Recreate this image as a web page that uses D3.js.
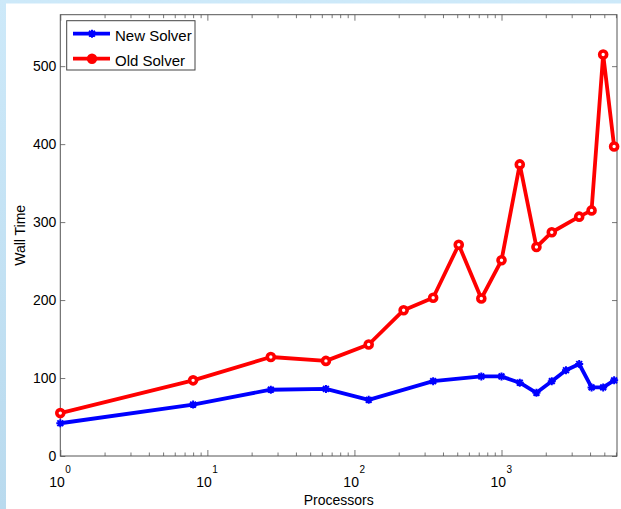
<!DOCTYPE html>
<html>
<head>
<title>Wall Time vs Processors</title>
<script src="https://cdn.jsdelivr.net/npm/d3@7/dist/d3.min.js"></script>
<style>
  body { margin: 0; background: #fff; }
  svg text { font-family: "Liberation Sans", Arial, Helvetica, sans-serif; fill: #000; }
</style>
</head>
<body>
<svg width="621" height="509"></svg>

<script>
// processor counts are cubes 1^3 .. 18^3
const newProcs = [1, 8, 27, 64, 125, 343, 729, 1000, 1331, 1728, 2197, 2744, 3375, 4096, 4913, 5832];
const newTime  = [42, 66, 85, 86, 72, 96, 102, 102, 94, 81, 96, 110, 118, 88, 88, 97];

const oldProcs = [1, 8, 27, 64, 125, 216, 343, 512, 729, 1000, 1331, 1728, 2197, 3375, 4096, 4913, 5832];
const oldTime  = [55, 97, 127, 122, 143, 187, 203, 271, 202, 251, 374, 268, 287, 307, 315, 515, 397];

const yTicks = [0, 100, 200, 300, 400, 500];
const xMajor = [1, 10, 100, 1000];
const xExp = ["0", "1", "2", "3"];
const xMinor = [2,3,4,5,6,7,8,9,20,30,40,50,60,70,80,90,200,300,400,500,600,700,800,900,2000,3000,4000,5000,6000];

const seriesNames = ["New Solver", "Old Solver"];

const svg = d3.select("svg");

// page background (light blue strip on the left and top)
var grad = svg.append("defs").append("linearGradient")
    .attr("id", "bg").attr("x1", 0).attr("y1", 0).attr("x2", 0).attr("y2", 1);
grad.append("stop").attr("offset", "0%").attr("stop-color", "#cde9f9");
grad.append("stop").attr("offset", "100%").attr("stop-color", "#b9daee");
svg.append("rect").attr("width", 621).attr("height", 509).attr("fill", "url(#bg)");
svg.append("rect").attr("x", 6).attr("y", 3.5).attr("width", 615).attr("height", 506).attr("fill", "#fff");

const pLeft = 60.3, pRight = 617, pTop = 14.7, pBottom = 456;

var x = d3.scaleLog().domain([1, 6100]).range([pLeft, pRight]);
var y = d3.scaleLinear().domain([0, 566]).range([pBottom, pTop]);

// y axis, left with labels, right without
svg.append("g")
    .attr("transform", "translate(" + pLeft + ",0)")
    .call(d3.axisLeft(y).tickValues(yTicks).tickSizeInner(-5).tickSizeOuter(0).tickPadding(4))
    .call(g => g.select(".domain").remove())
    .call(g => g.selectAll("line").attr("stroke", "#777"))
    .call(g => g.selectAll("text").attr("font-size", 14).attr("fill", "#000"));

svg.append("g")
    .attr("transform", "translate(" + pRight + ",0)")
    .call(d3.axisRight(y).tickValues(yTicks).tickSizeInner(-5).tickSizeOuter(0).tickFormat(""))
    .call(g => g.select(".domain").remove())
    .call(g => g.selectAll("line").attr("stroke", "#777"));

// x axis ticks, bottom and top, majors longer than minors
function xTicks(pos, vals, len, axisFn) {
    svg.append("g")
        .attr("transform", "translate(0," + pos + ")")
        .call(axisFn(x).tickValues(vals).tickSizeInner(-len).tickSizeOuter(0).tickFormat(""))
        .call(g => g.select(".domain").remove())
        .call(g => g.selectAll("line").attr("stroke", "#777"));
}
xTicks(pBottom, xMajor, 6, d3.axisBottom);
xTicks(pBottom, xMinor, 3.5, d3.axisBottom);
xTicks(pTop, xMajor, 6, d3.axisTop);
xTicks(pTop, xMinor, 3.5, d3.axisTop);

// 10^n labels
var xl = svg.append("g").selectAll("g").data(xMajor).enter().append("g");
xl.append("text")
    .attr("x", d => x(d) + 4.5)
    .attr("y", 486.7)
    .attr("text-anchor", "end")
    .attr("font-size", 14)
    .text("10");
xl.append("text")
    .attr("x", d => x(d) + 5)
    .attr("y", 473.3)
    .attr("font-size", 10)
    .text((d, i) => xExp[i]);

// box
svg.append("rect")
    .attr("x", pLeft).attr("y", pTop)
    .attr("width", pRight - pLeft).attr("height", pBottom - pTop)
    .attr("fill", "none").attr("stroke", "#555").attr("stroke-width", 1);

// axis titles
svg.append("text")
    .attr("x", (pLeft + pRight) / 2).attr("y", 505)
    .attr("text-anchor", "middle").attr("font-size", 14)
    .text("Processors");
svg.append("text")
    .attr("transform", "translate(25," + (pTop + pBottom) / 2 + ") rotate(-90)")
    .attr("text-anchor", "middle").attr("font-size", 14)
    .text("Wall Time");

// series
const line = d3.line().x(d => x(d[0])).y(d => y(d[1]));
const newData = newProcs.map((p, i) => [p, newTime[i]]);
const oldData = oldProcs.map((p, i) => [p, oldTime[i]]);

function star(g, cx, cy, color) {
    var s = 4, t = 2.9;
    g.append("path")
        .attr("d", "M" + (cx - s) + "," + cy + "H" + (cx + s) +
                   "M" + cx + "," + (cy - s) + "V" + (cy + s) +
                   "M" + (cx - t) + "," + (cy - t) + "L" + (cx + t) + "," + (cy + t) +
                   "M" + (cx - t) + "," + (cy + t) + "L" + (cx + t) + "," + (cy - t))
        .attr("stroke", color).attr("stroke-width", 2).attr("fill", "none");
}

var blue = svg.append("g");
blue.append("path").datum(newData)
    .attr("d", line).attr("fill", "none")
    .attr("stroke", "#0000ff").attr("stroke-width", 3.8).attr("stroke-linejoin", "round");
newData.forEach(d => star(blue, x(d[0]), y(d[1]), "#0000ff"));

var red = svg.append("g");
red.append("path").datum(oldData)
    .attr("d", line).attr("fill", "none")
    .attr("stroke", "#ff0000").attr("stroke-width", 3.8).attr("stroke-linejoin", "round");
red.selectAll("circle").data(oldData).enter().append("circle")
    .attr("cx", d => x(d[0])).attr("cy", d => y(d[1]))
    .attr("r", 3.5).attr("fill", "#fff")
    .attr("stroke", "#ff0000").attr("stroke-width", 3.6);

// legend
var lg = svg.append("g");
lg.append("rect")
    .attr("x", 66.7).attr("y", 20.7).attr("width", 128.3).attr("height", 49.3)
    .attr("fill", "#fff").attr("stroke", "#444").attr("stroke-width", 1);
lg.append("line").attr("x1", 73).attr("x2", 110).attr("y1", 33.7).attr("y2", 33.7)
    .attr("stroke", "#0000ff").attr("stroke-width", 3.8);
star(lg, 92, 33.7, "#0000ff");
lg.append("line").attr("x1", 73).attr("x2", 110).attr("y1", 58.7).attr("y2", 58.7)
    .attr("stroke", "#ff0000").attr("stroke-width", 3.8);
lg.append("circle").attr("cx", 92).attr("cy", 58.7).attr("r", 3.6)
    .attr("fill", "#ff0000").attr("stroke", "#ff0000").attr("stroke-width", 3.2);
lg.selectAll("text.leg").data(seriesNames).enter().append("text")
    .attr("class", "leg")
    .attr("x", 115).attr("y", (d, i) => 41 + i * 24.5)
    .attr("font-size", 15)
    .text(d => d);
</script>
</body>
</html>
